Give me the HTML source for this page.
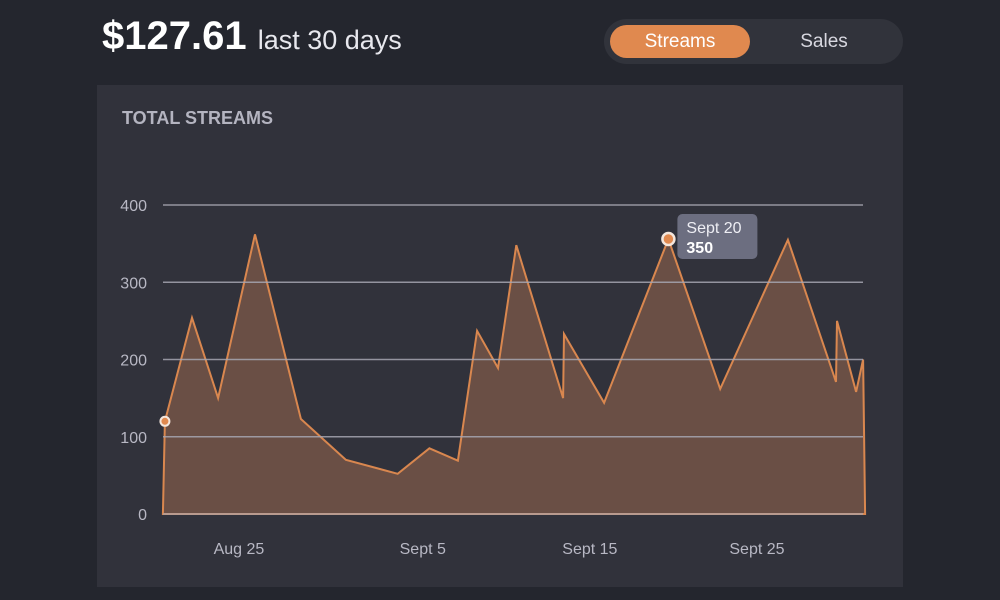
<!DOCTYPE html>
<html><head><meta charset="utf-8"><style>
body{margin:0;width:1000px;height:600px;background:#24262e;font-family:"Liberation Sans",sans-serif;overflow:hidden;position:relative}
.abs{position:absolute}
</style></head><body>
<div class="abs" style="left:102px;top:14px;color:#fff;font-weight:bold;font-size:40px">$127.61 <span style="font-weight:normal;font-size:27px;color:#e8e8ee">last 30 days</span></div>
<div class="abs" style="left:604px;top:19px;width:299px;height:45px;border-radius:23px;background:#31333b">
 <div class="abs" style="left:6px;top:6px;width:140px;height:33px;border-radius:17px;background:#e0894f;color:#fff;font-size:19px;text-align:center;line-height:33px">Streams</div>
 <div class="abs" style="left:160px;top:6px;width:120px;height:33px;color:#d8d8e0;font-size:19px;text-align:center;line-height:33px">Sales</div>
</div>
<div class="abs" style="left:97px;top:85px;width:806px;height:502px;background:#31323b"></div>
<div class="abs" style="left:122px;top:108px;color:#b4b4c0;font-weight:bold;font-size:18px">TOTAL STREAMS</div>
<svg class="abs" style="left:0;top:0" width="1000" height="600">
<g id="area"></g><g id="grid"></g><g id="xt"></g><g id="tip"></g>
</svg>
<script>
const days=[0.45,0.57,2.19,3.75,5.96,8.71,11.4,14.5,16.4,18.1,19.25,20.5,21.6,24.4,24.45,26.85,30.7,33.8,37.85,40.73,40.79,41.93,42.35,42.47];
const values=[0,120,254,150,362,123,70,52,85,69,237,189,348,150,233,144,356,162,355,171,250,158,200,0];
const yTicks=[0,100,200,300,400];
const xTickDays=[5,16,26,36];
const xTickLabels=["Aug 25","Sept 5","Sept 15","Sept 25"];
const tipIndex=16;const tipLabel="Sept 20";const tipValue="350";
const X=d=>155.4+16.71*d, Y=v=>514-0.7725*v;
const NS="http://www.w3.org/2000/svg";
function mk(t,a,p){const e=document.createElementNS(NS,t);for(const k in a)e.setAttribute(k,a[k]);p.appendChild(e);return e;}
const grid=document.getElementById('grid');
yTicks.forEach(v=>{
 const l=mk('line',{x1:163,x2:863,y1:Y(v),y2:Y(v),stroke:'#a6a6b2','stroke-width':1.5,'stroke-opacity':0.85},grid);
 
 
 const t=mk('text',{x:147,y:Y(v)+6,'text-anchor':'end',fill:'#b8b8c4','font-size':16,'font-family':'Liberation Sans'},grid);t.textContent=v;
 
 
});
const pts=days.map((d,i)=>X(d).toFixed(1)+','+Y(values[i]).toFixed(1)).join(' ');
const poly=mk('polygon',{points:pts,fill:'#6a4f45',stroke:'#d9874f','stroke-width':2,'stroke-linejoin':'miter'},document.getElementById('area'));


const xt=document.getElementById('xt');
xTickDays.forEach((d,i)=>{const t=mk('text',{x:X(d),y:554,'text-anchor':'middle',fill:'#b8b8c4','font-size':16,'font-family':'Liberation Sans'},xt);t.textContent=xTickLabels[i];
 
 });
const tip=document.getElementById('tip');
const s=mk('circle',{cx:X(days[1]),cy:Y(values[1]),r:4.5,fill:'#e0894f',stroke:'#f4e6dc','stroke-width':2},tip);


const tx=X(days[tipIndex]),ty=Y(values[tipIndex]);
const c=mk('circle',{cx:tx,cy:ty,r:6,fill:'#e0894f',stroke:'#f4e6dc','stroke-width':2.5},tip);


const r=mk('rect',{x:tx+9,y:ty-25,width:80,height:45,rx:5,fill:'#6c6e80'},tip);


const t1=mk('text',{x:tx+18,y:ty-6,fill:'#eeeef4','font-size':16,'font-family':'Liberation Sans'},tip);t1.textContent=tipLabel;


const t2=mk('text',{x:tx+18,y:ty+14,fill:'#fff','font-size':16,'font-weight':'bold','font-family':'Liberation Sans'},tip);t2.textContent=tipValue;


</script>
</body></html>
